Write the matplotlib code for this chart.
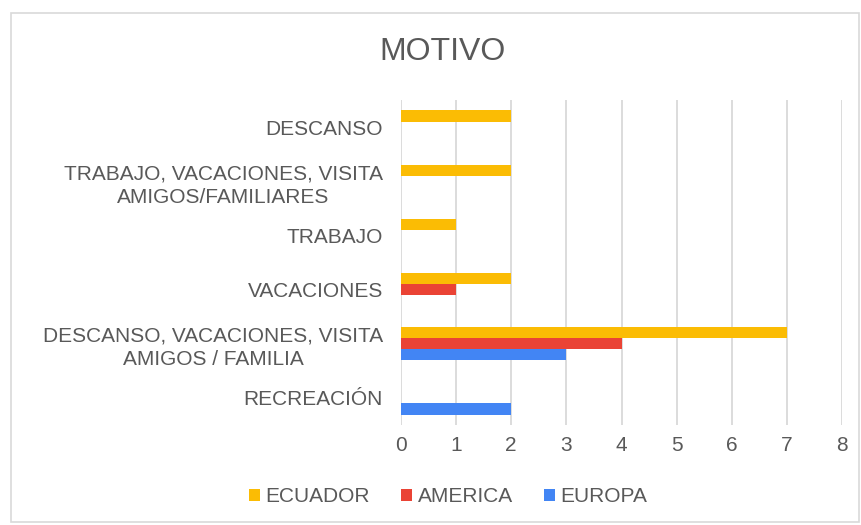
import matplotlib
matplotlib.use("Agg")
import matplotlib.pyplot as plt
import numpy as np
from matplotlib.patches import Rectangle

categories = ["RECREACIÓN",
              "DESCANSO, VACACIONES, VISITA\nAMIGOS / FAMILIA",
              "VACACIONES",
              "TRABAJO",
              "TRABAJO, VACACIONES, VISITA\nAMIGOS/FAMILIARES",
              "DESCANSO"]
ecuador = [0, 7, 2, 1, 2, 2]
america = [0, 4, 1, 0, 0, 0]
europa = [2, 3, 0, 0, 0, 0]
series_names = ["ECUADOR", "AMERICA", "EUROPA"]
colors = ["#FBBC04", "#EA4335", "#4285F4"]
xticks = [0, 1, 2, 3, 4, 5, 6, 7, 8]

plt.rcParams['font.family'] = ['Liberation Sans', 'DejaVu Sans']
txt = "#595959"

fig = plt.figure(figsize=(8.61, 5.25), dpi=100)
fig.patches.append(Rectangle((11/861, 3/525), (861-13)/861, (525-16)/525,
                             transform=fig.transFigure, fill=False,
                             edgecolor="#D9D9D9", linewidth=1.2))
ax = fig.add_axes([401/861, 1-425/525, 441/861, 325/525])

y = np.arange(len(categories))
h = 0.205
offsets = [h, 0, -h]
for vals, name, c, off in zip([ecuador, america, europa], series_names, colors, offsets):
    ax.barh(y + off, vals, height=h, color=c, label=name, zorder=3)

ax.set_xlim(0, 8)
ax.set_ylim(-0.5, len(categories) - 0.5)
ax.set_xticks(xticks)
ax.set_xticklabels([str(t) for t in xticks])
ax.set_yticks(y)
ax.set_yticklabels(categories, linespacing=1.3)
ax.grid(axis='x', color="#D9D9D9", linewidth=1.3, zorder=0)
for s in ax.spines.values():
    s.set_visible(False)
ax.tick_params(axis='both', length=0, colors=txt, labelsize=15)
ax.tick_params(axis='y', pad=13)
ax.tick_params(axis='x', pad=8)
for lab in ax.get_yticklabels():
    lab.set_horizontalalignment('right')
    lab.set_multialignment('center')

fig.text(443/861, 1-52/525, "MOTIVO", ha='center', va='center', fontsize=23, color=txt)

leg = fig.legend(loc='center', bbox_to_anchor=(448/861, 1-497/525), ncol=3, frameon=False,
                 fontsize=15, handlelength=0.55, handleheight=0.55, handletextpad=0.25,
                 columnspacing=1.5, labelcolor=txt)

fig.savefig("out.png", dpi=100)
